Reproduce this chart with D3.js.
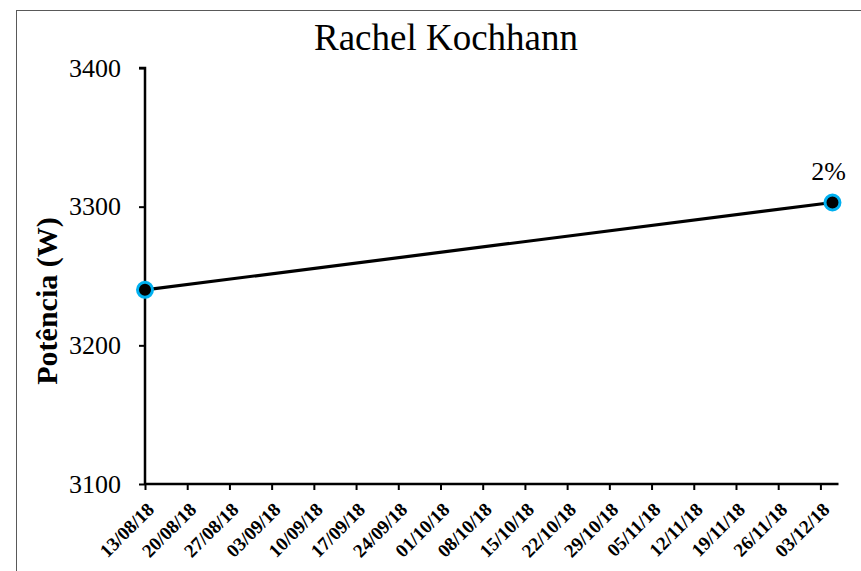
<!DOCTYPE html>
<html>
<head>
<meta charset="utf-8">
<script src="https://cdn.jsdelivr.net/npm/d3@7"></script>
<style>
  body { margin: 0; background: #fff; }
  svg { display: block; }
</style>
</head>
<body>
<svg id="chart" width="861" height="571"></svg>
<script>
// Data
const title = "Rachel Kochhann";
const yLabel = "Potência (W)";
const pointDates = ["13/08/18", "05/12/18"];
const pointValues = [3240, 3303];
const pointLabels = ["", "2%"];
const tickDates = ["13/08/18","20/08/18","27/08/18","03/09/18","10/09/18","17/09/18","24/09/18","01/10/18","08/10/18","15/10/18","22/10/18","29/10/18","05/11/18","12/11/18","19/11/18","26/11/18","03/12/18"];
const yTicks = [3100, 3200, 3300, 3400];
const xDomainDates = ["13/08/18", "06/12/18"];

(function () {
const parse = d3.timeParse("%d/%m/%y");
const svg = d3.select("#chart");
const font = "'Liberation Serif', 'Times New Roman', serif";

// Outer border
svg.append("rect").attr("x", 16.5).attr("y", 10.5).attr("width", 860).attr("height", 570)
  .attr("fill", "#fff").attr("stroke", "#595959").attr("stroke-width", 1);

const pLeft = 145, pRight = 838.5, pTop = 68, pBottom = 484;

const x = d3.scaleTime().domain(xDomainDates.map(parse)).range([pLeft, pRight]);
const y = d3.scaleLinear().domain([3100, 3400]).range([pBottom, pTop]);

// Y axis
const yAxis = svg.append("g").attr("transform", `translate(${pLeft},0)`)
  .call(d3.axisLeft(y).tickValues(yTicks).tickSize(6).tickPadding(18).tickFormat(d3.format("d")));
yAxis.select(".domain").attr("stroke", "#000").attr("stroke-width", 2.5).attr("d", `M-6,${pTop}H0V${pBottom}`);
yAxis.selectAll(".tick line").attr("stroke", "#000").attr("stroke-width", 2);
yAxis.selectAll(".tick text").attr("font-family", font).attr("font-size", 26).attr("fill", "#000");

// X axis
const xAxis = svg.append("g").attr("transform", `translate(0,${pBottom})`)
  .call(d3.axisBottom(x).tickValues(tickDates.map(parse)).tickSize(6).tickFormat(d3.timeFormat("%d/%m/%y")));
xAxis.select(".domain").attr("stroke", "#000").attr("stroke-width", 2.5).attr("d", `M${pLeft},0H${pRight}`);
xAxis.selectAll(".tick line").attr("stroke", "#000").attr("stroke-width", 2);
xAxis.selectAll(".tick text")
  .attr("font-family", font).attr("font-size", 19).attr("font-weight", "bold").attr("fill", "#000")
  .attr("text-anchor", "end").attr("dy", "0.35em")
  .attr("transform", "translate(5,22) rotate(-45)").attr("y", 0).attr("x", 0);

// Title
svg.append("text").attr("x", 446).attr("y", 50).attr("text-anchor", "middle")
  .attr("font-family", font).attr("font-size", 37).attr("fill", "#000").text(title);

// Y label
svg.append("text").attr("transform", "translate(57,301) rotate(-90)").attr("text-anchor", "middle")
  .attr("font-family", font).attr("font-size", 30).attr("font-weight", "bold").attr("fill", "#000").text(yLabel);

// Line
const pts = pointDates.map((d, i) => ({ date: parse(d), value: pointValues[i], label: pointLabels[i] }));
svg.append("path").datum(pts)
  .attr("d", d3.line().x(d => x(d.date)).y(d => y(d.value)))
  .attr("fill", "none").attr("stroke", "#000").attr("stroke-width", 3.2);

svg.selectAll("circle.pt").data(pts).enter().append("circle")
  .attr("class", "pt")
  .attr("cx", d => x(d.date)).attr("cy", d => y(d.value)).attr("r", 7.5)
  .attr("fill", "#000").attr("stroke", "#00B0F0").attr("stroke-width", 3);

svg.selectAll("text.lbl").data(pts.filter(d => d.label)).enter().append("text")
  .attr("class", "lbl")
  .attr("x", d => x(d.date) - 4).attr("y", d => y(d.value) - 23)
  .attr("text-anchor", "middle").attr("font-family", font).attr("font-size", 26).attr("fill", "#000")
  .text(d => d.label);
})();
</script>
</body>
</html>
